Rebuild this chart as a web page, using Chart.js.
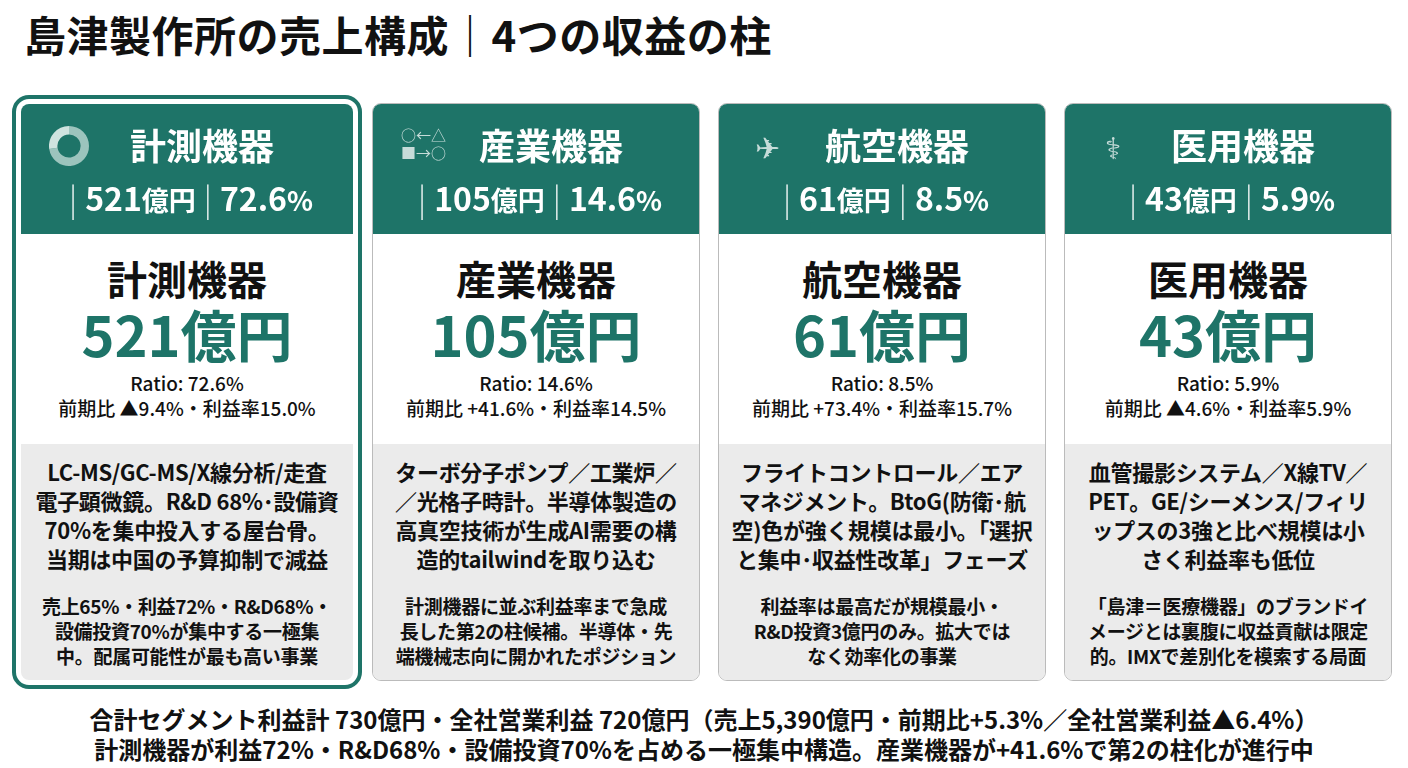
<!DOCTYPE html>
<html><head><meta charset="utf-8">
<script src="https://cdn.jsdelivr.net/npm/chart.js@4/dist/chart.umd.min.js"></script>
<style>
body{margin:0;width:1408px;height:768px;background:#fff;font-family:"Noto Sans CJK JP","Noto Sans",sans-serif;color:#111;overflow:hidden;position:relative}
h1{position:absolute;left:24px;top:6px;margin:0;font-size:42px;font-weight:700;letter-spacing:0.5px;line-height:56px}
.card{position:absolute;top:103px;height:578px;border:1.5px solid #bbb;border-radius:9px;overflow:hidden;background:#fff;box-sizing:border-box}
.card.hl{outline:4px solid #1e7468;outline-offset:4px;border:1.5px solid #fff}
.hd{background:#1e7468;height:130px;color:#fff;text-align:center;position:relative}
.hn{position:absolute;top:14px;left:0;right:0;font-size:36px;font-weight:700;padding-left:30px}
.hv{position:absolute;top:70px;left:0;right:0;font-size:32px;font-weight:700}
.hv .s{font-weight:300;opacity:.9;margin:0 8px}
.hv small{font-size:27px}
.icon{position:absolute;left:28px;top:22px;width:40px;height:40px}
.wh{height:210px;text-align:center}
.n1{font-size:40px;font-weight:700;padding-top:20px;line-height:48px}
.n2{font-size:56px;font-weight:700;color:#1e7468;line-height:62px}
.r{font-size:19px;line-height:25px;font-weight:500}
.r.f{margin-top:6px}
.gy{background:#ebebeb;height:240px;text-align:center;padding:13px 4px 0}
.d{font-size:22px;font-weight:700;line-height:29px;letter-spacing:-0.3px}
.nt{font-size:19px;font-weight:700;line-height:25px;margin-top:20px;letter-spacing:-0.3px}
.ft{position:absolute;left:0;right:0;text-align:center;font-size:24px;font-weight:700;line-height:29px}
</style></head><body>
<h1>島津製作所の売上構成｜4つの収益の柱</h1>
<div id="cards"></div>
<div class="ft" style="top:704px">合計セグメント利益計 730億円・全社営業利益 720億円（売上5,390億円・前期比+5.3%／全社営業利益▲6.4%）</div>
<div class="ft" style="top:734px">計測機器が利益72%・R&amp;D68%・設備投資70%を占める一極集中構造。産業機器が+41.6%で第2の柱化が進行中</div>
<script>
const segments=["計測機器","産業機器","航空機器","医用機器"];
const sales=[521,105,61,43];
const ratios=[72.6,14.6,8.5,5.9];
const yoy=["▲9.4%","+41.6%","+73.4%","▲4.6%"];
const margins=[15.0,14.5,15.7,5.9];
const descs=[
["LC-MS/GC-MS/X線分析/走査","電子顕微鏡。R&D 68%･設備資","70%を集中投入する屋台骨。","当期は中国の予算抑制で減益"],
["ターボ分子ポンプ／工業炉／","／光格子時計。半導体製造の","高真空技術が生成AI需要の構","造的tailwindを取り込む"],
["フライトコントロール／エア","マネジメント。BtoG(防衛･航","空)色が強く規模は最小。「選択","と集中･収益性改革」フェーズ"],
["血管撮影システム／X線TV／","PET。GE/シーメンス/フィリ","ップスの3強と比べ規模は小","さく利益率も低位"]];
const notes=[
["売上65%・利益72%・R&D68%・","設備投資70%が集中する一極集","中。配属可能性が最も高い事業"],
["計測機器に並ぶ利益率まで急成","長した第2の柱候補。半導体・先","端機械志向に開かれたポジション"],
["利益率は最高だが規模最小・","R&D投資3億円のみ。拡大では","なく効率化の事業"],
["「島津＝医療機器」のブランドイ","メージとは裏腹に収益貢献は限定","的。IMXで差別化を模索する局面"]];
const lefts=[20,372,718,1064], widths=[334,328,328,328];
const glyph=["","○←△<br>■→○","✈","⚕"];
const wrap=document.getElementById('cards');
segments.forEach((s,i)=>{
 const c=document.createElement('div');
 c.className='card'+(i===0?' hl':'');
 c.style.left=lefts[i]+'px';c.style.width=widths[i]+'px';
 const fs=i===1?'15px':'30px', lh=i===1?'18px':'40px';
 const ic=i===0?`<canvas id="ic0" class="icon" width="40" height="40"></canvas>`:`<div class="icon" style="font-size:${fs};opacity:.75;line-height:${lh}">${glyph[i]}</div>`;
 c.innerHTML=`<div class="hd">${ic}<div class="hn">${s}</div>
 <div class="hv"><span class="s">|</span>${sales[i]}<small>億円</small><span class="s">|</span>${ratios[i].toFixed(1)}<small>%</small></div></div>
 <div class="wh"><div class="n1">${s}</div><div class="n2">${sales[i]}億円</div>
 <div class="r f">Ratio: ${ratios[i].toFixed(1)}%</div><div class="r">前期比 ${yoy[i]}・利益率${margins[i].toFixed(1)}%</div></div>
 <div class="gy"><div class="d">${descs[i].join('<br>')}</div><div class="nt">${notes[i].join('<br>')}</div></div>`;
 wrap.appendChild(c);
});
new Chart(document.getElementById('ic0'),{type:'doughnut',
 data:{labels:['計測機器','その他'],datasets:[{data:[ratios[0],100-ratios[0]],backgroundColor:['#9cc4bd','#cfe3df'],borderWidth:0}]},
 options:{responsive:false,animation:false,cutout:'58%',plugins:{legend:{display:false},tooltip:{enabled:false}}}});
</script>
</body></html>
